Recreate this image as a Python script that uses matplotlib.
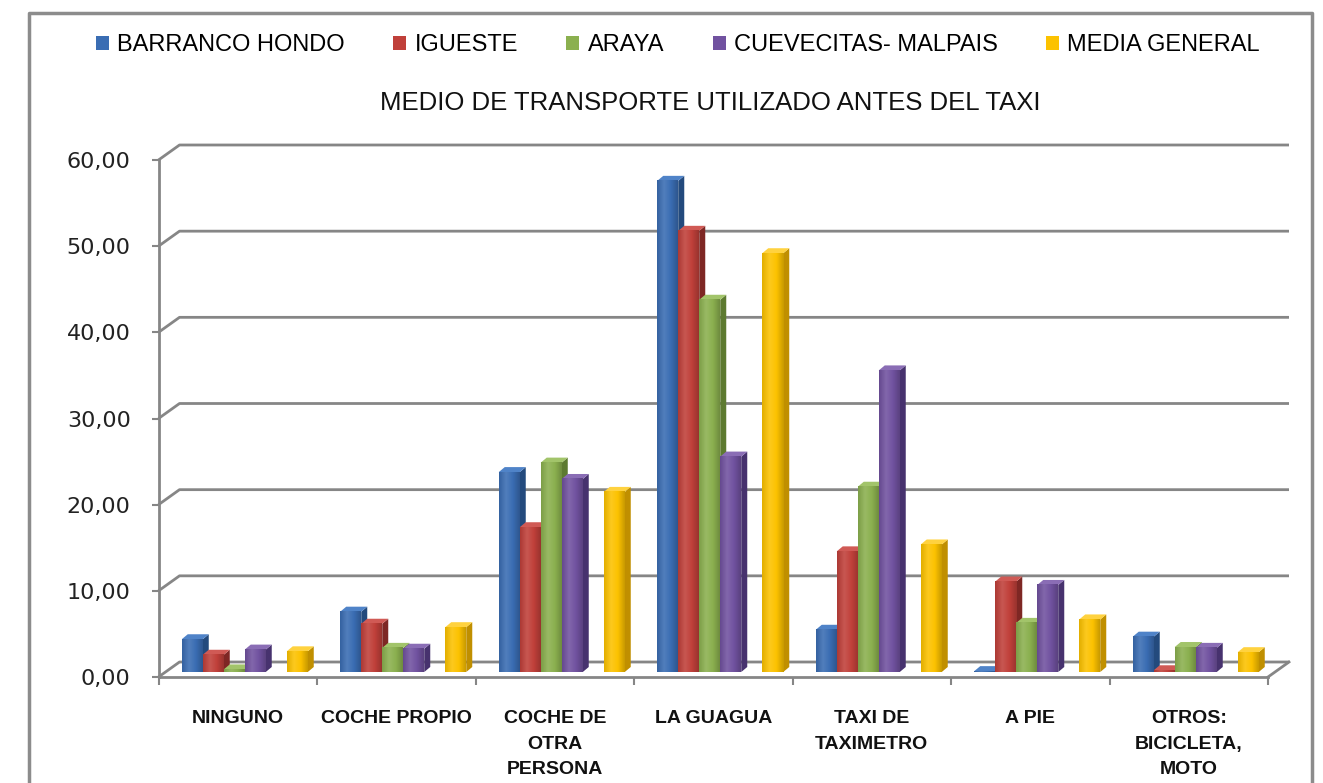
import numpy as np
import matplotlib.pyplot as plt
from matplotlib.patches import Polygon, Patch
from matplotlib.lines import Line2D
from matplotlib.colors import LinearSegmentedColormap, to_rgb

categories = ['NINGUNO', 'COCHE PROPIO', 'COCHE DE\nOTRA\nPERSONA', 'LA GUAGUA',
              'TAXI DE\nTAXIMETRO', 'A PIE', 'OTROS:\nBICICLETA,\nMOTO']
series_names = ['BARRANCO HONDO', 'IGUESTE', 'ARAYA', 'CUEVECITAS- MALPAIS', 'MEDIA GENERAL']
barranco_hondo = [3.8, 7.0, 23.2, 57.0, 4.9, 0.1, 4.1]
igueste = [2.0, 5.6, 16.8, 51.2, 14.0, 10.5, 0.2]
araya = [0.3, 2.8, 24.3, 43.2, 21.5, 5.7, 2.9]
cuevecitas = [2.6, 2.7, 22.4, 25.0, 35.0, 10.1, 2.8]
media_general = [2.4, 5.2, 20.9, 48.6, 14.8, 6.1, 2.3]
y_ticks = [0, 10, 20, 30, 40, 50, 60]

series = [barranco_hondo, igueste, araya, cuevecitas, media_general]
# front, side, top colours for each series
front = ['#3a6db3', '#c0403a', '#8bb04f', '#7152a0', '#fcc200']
side = ['#234a7d', '#7e2724', '#5d7a30', '#47326e', '#c08f00']
top = ['#4f83c8', '#d05a55', '#a2c46a', '#8a6db5', '#ffd23f']
# MEDIA GENERAL sits one slot apart from the four places
slots = [0, 1, 2, 3, 5]

W, H = 1323, 783
GRID = '#868686'
TEXT_FONT = ['Liberation Sans', 'DejaVu Sans']


def shade(c, f):
    r = np.array(to_rgb(c))
    return tuple(np.clip(r * f if f < 1 else r + (1 - r) * (f - 1), 0, 1))


fig = plt.figure(figsize=(W / 100, H / 100), dpi=100)
fig.patch.set_facecolor('white')

ax_left, ax_right, ax_bottom, ax_top = 158.5, 1268, 677, 160
ax = fig.add_axes([ax_left / W, (H - ax_bottom) / H,
                   (ax_right - ax_left) / W, (ax_bottom - ax_top) / H])
n = len(categories)

# pixel -> data conversions for the fake depth
px_x = n / (ax_right - ax_left)
px_y = 60 / (ax_bottom - ax_top)
wall_dx, wall_dy = 21 * px_x, 15 * px_y
bar_ox, bar_oy = 7 * px_x, 5 * px_y
depth_dx, depth_dy = 6 * px_x, 5 * px_y
slot_w = 21 * px_x
start = (1 - 6 * slot_w) / 2

# back wall gridlines and floor
for v in y_ticks:
    ax.plot([0, wall_dx, n + wall_dx], [v, v + wall_dy, v + wall_dy],
            color=GRID, lw=2, clip_on=False, zorder=1, solid_capstyle='butt')
ax.plot([n, n + wall_dx], [0, wall_dy], color=GRID, lw=2, clip_on=False, zorder=1)

grad = np.linspace(0, 1, 32).reshape(1, -1)
z = 2.0
for i in range(n):
    for j, vals in enumerate(series):
        v = vals[i]
        x0 = i + start + slots[j] * slot_w + bar_ox
        y0 = bar_oy
        x1 = x0 + slot_w
        sd = Polygon([(x1, y0), (x1 + depth_dx, y0 + depth_dy),
                      (x1 + depth_dx, y0 + v + depth_dy), (x1, y0 + v)],
                     closed=True, facecolor=side[j], edgecolor='none',
                     zorder=z, clip_on=False)
        tp = Polygon([(x0, y0 + v), (x0 + depth_dx, y0 + v + depth_dy),
                      (x1 + depth_dx, y0 + v + depth_dy), (x1, y0 + v)],
                     closed=True, facecolor=top[j], edgecolor='none',
                     zorder=z, clip_on=False)
        ax.add_patch(sd)
        ax.add_patch(tp)
        ax.bar(x0, v, width=slot_w, bottom=y0, align='edge', color=front[j],
               edgecolor='none', zorder=z + 0.001, clip_on=False)
        # soft lighting across the front face
        cmap = LinearSegmentedColormap.from_list(
            'f%d' % j, [shade(front[j], 0.9), shade(front[j], 1.12),
                        front[j], shade(front[j], 0.8)])
        ax.imshow(grad, cmap=cmap, extent=(x0, x1, y0, y0 + v), aspect='auto',
                  interpolation='bilinear', zorder=z + 0.002, clip_on=False)
        z += 0.01

ax.set_xlim(0, n)
ax.set_ylim(0, 60)

for s in ['top', 'right']:
    ax.spines[s].set_visible(False)
for s in ['left', 'bottom']:
    ax.spines[s].set_color(GRID)
    ax.spines[s].set_linewidth(2)
    ax.spines[s].set_zorder(1.5)
ax.set_facecolor('none')

ax.set_yticks(y_ticks)
ax.set_yticklabels([f'{v:.2f}'.replace('.', ',') for v in y_ticks],
                   fontsize=16, family='DejaVu Sans', color='#222222')
ax.tick_params(axis='y', length=5, width=1.5, color=GRID, pad=15)

ax.set_xticks(np.arange(n) + 0.5)
ax.set_xticklabels(categories, fontsize=14, fontweight='bold', family=TEXT_FONT,
                   linespacing=1.65, va='top', color='#111111')
ax.tick_params(axis='x', length=0, pad=24)
ax.set_xticks(np.arange(n + 1), minor=True)
ax.tick_params(axis='x', which='minor', length=6, width=1.5, color=GRID)

fig.text(710 / W, 1 - 103 / H, 'MEDIO DE TRANSPORTE UTILIZADO ANTES DEL TAXI',
         ha='center', va='center', fontsize=18.5, family=TEXT_FONT, color='#111111')

handles = [Patch(facecolor=c, edgecolor='none') for c in front]
fig.legend(handles, series_names, loc='center', bbox_to_anchor=(678 / W, 1 - 45 / H),
           ncol=5, frameon=False, handlelength=0.55, handleheight=0.55,
           handletextpad=0.35, columnspacing=2.05,
           prop={'family': TEXT_FONT, 'size': 17})

# chart frame
fig.add_artist(Line2D([29 / W, 29 / W, 1312 / W, 1312 / W], [0, 1 - 13 / H, 1 - 13 / H, 0],
                      transform=fig.transFigure, color='#8c8c8c', lw=2.5))

fig.savefig('out.png', dpi=100)
